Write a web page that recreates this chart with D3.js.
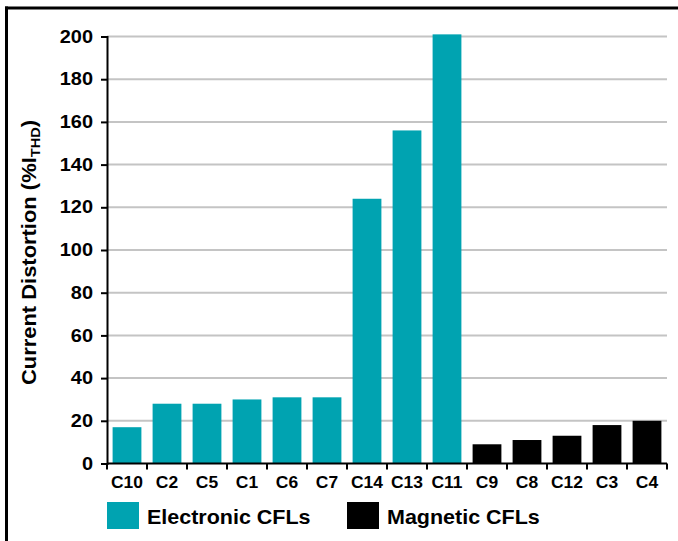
<!DOCTYPE html>
<html>
<head>
<meta charset="utf-8">
<script src="https://cdn.jsdelivr.net/npm/d3@7"></script>
<style>
  html, body { margin: 0; padding: 0; background: #fff; }
  svg { display: block; font-family: "Liberation Sans", Arial, sans-serif; font-weight: bold; }
</style>
</head>
<body>
<svg id="chart" width="678" height="541"></svg>
<script>
const categories = ["C10","C2","C5","C1","C6","C7","C14","C13","C11","C9","C8","C12","C3","C4"];
const values     = [17, 28, 28, 30, 31, 31, 124, 156, 201, 9, 11, 13, 18, 20];
const groups     = ["Electronic","Electronic","Electronic","Electronic","Electronic","Electronic","Electronic","Electronic","Electronic","Magnetic","Magnetic","Magnetic","Magnetic","Magnetic"];
const yTicks     = [0, 20, 40, 60, 80, 100, 120, 140, 160, 180, 200];
const legendLabels = ["Electronic CFLs", "Magnetic CFLs"];
const legendKeys   = ["Electronic", "Magnetic"];

const colors = { Electronic: "#00a3b1", Magnetic: "#000000" };

const svg = d3.select("#chart");
const pLeft = 107, pRight = 667, pTop = 36.5, pBottom = 463.5;
const FONT = "Liberation Sans, Arial, sans-serif";

// frame
svg.append("line").attr("x1", 5).attr("x2", 678).attr("y1", 8).attr("y2", 8)
  .attr("stroke", "#000").attr("stroke-width", 3);
svg.append("line").attr("x1", 6.5).attr("x2", 6.5).attr("y1", 6.5).attr("y2", 541)
  .attr("stroke", "#000").attr("stroke-width", 3);

const x = d3.scaleBand().domain(categories).range([pLeft, pRight]).paddingInner(0.28).paddingOuter(0.14);
const y = d3.scaleLinear().domain([0, 200]).range([pBottom, pTop]);

// gridlines
svg.append("g").selectAll("line").data(yTicks.filter(d => d > 0)).join("line")
  .attr("x1", pLeft).attr("x2", pRight)
  .attr("y1", d => y(d)).attr("y2", d => y(d))
  .attr("stroke", "#c4c4c4").attr("stroke-width", 2);

// bars
svg.append("g").selectAll("rect").data(categories).join("rect")
  .attr("x", d => x(d))
  .attr("width", x.bandwidth())
  .attr("y", (d, i) => y(values[i]))
  .attr("height", (d, i) => y(0) - y(values[i]))
  .attr("fill", (d, i) => colors[groups[i]]);

// y axis
const ySX = 1.14;
const yAxis = svg.append("g").attr("transform", `translate(${pLeft},0)`)
  .call(d3.axisLeft(y).tickValues(yTicks).tickSize(6).tickPadding(8));
yAxis.select(".domain").attr("stroke", "#000").attr("stroke-width", 2);
yAxis.selectAll(".tick line").attr("stroke", "#000").attr("stroke-width", 2);
yAxis.selectAll(".tick text").attr("font-size", 17.5).attr("font-weight", "bold")
  .attr("font-family", FONT).attr("fill", "#000")
  .attr("x", -14 / ySX).attr("transform", `scale(${ySX},1)`);

// x axis
const xSX = 1.07;
const xAxis = svg.append("g").attr("transform", `translate(0,${pBottom})`)
  .call(d3.axisBottom(x).tickSize(0).tickPadding(13));
xAxis.select(".domain").attr("d", `M${pLeft},0H${pRight}`).attr("stroke", "#000").attr("stroke-width", 2);
xAxis.selectAll(".tick text").attr("font-size", 16.3).attr("font-weight", "bold")
  .attr("font-family", FONT).attr("fill", "#000")
  .attr("dy", "0.71em").attr("transform", `scale(${xSX},1)`);
// band boundary ticks
const boundaries = d3.range(categories.length + 1).map(i => pLeft + i * ((pRight - pLeft) / categories.length));
svg.append("g").selectAll("line").data(boundaries).join("line")
  .attr("x1", d => d).attr("x2", d => d)
  .attr("y1", pBottom).attr("y2", pBottom + 6)
  .attr("stroke", "#000").attr("stroke-width", 2);

// y title
const yt = svg.append("text")
  .attr("transform", `translate(36,252.5) rotate(-90) scale(1.125,1)`)
  .attr("text-anchor", "middle").attr("font-size", 19.5).attr("fill", "#000");
yt.append("tspan").text("Current Distortion (%I");
yt.append("tspan").attr("font-size", 13).attr("dy", 4).text("THD");
yt.append("tspan").attr("dy", -4).text(")");

// legend
const lg = svg.append("g").selectAll("g").data(legendKeys).join("g")
  .attr("transform", (d, i) => `translate(${107 + i * 240},502)`);
lg.append("rect").attr("width", 32).attr("height", 27).attr("fill", d => colors[d]);
lg.append("text").attr("transform", "translate(40,22) scale(1.075,1)")
  .attr("font-size", 20).attr("fill", "#000")
  .text((d, i) => legendLabels[i]);
</script>
</body>
</html>
